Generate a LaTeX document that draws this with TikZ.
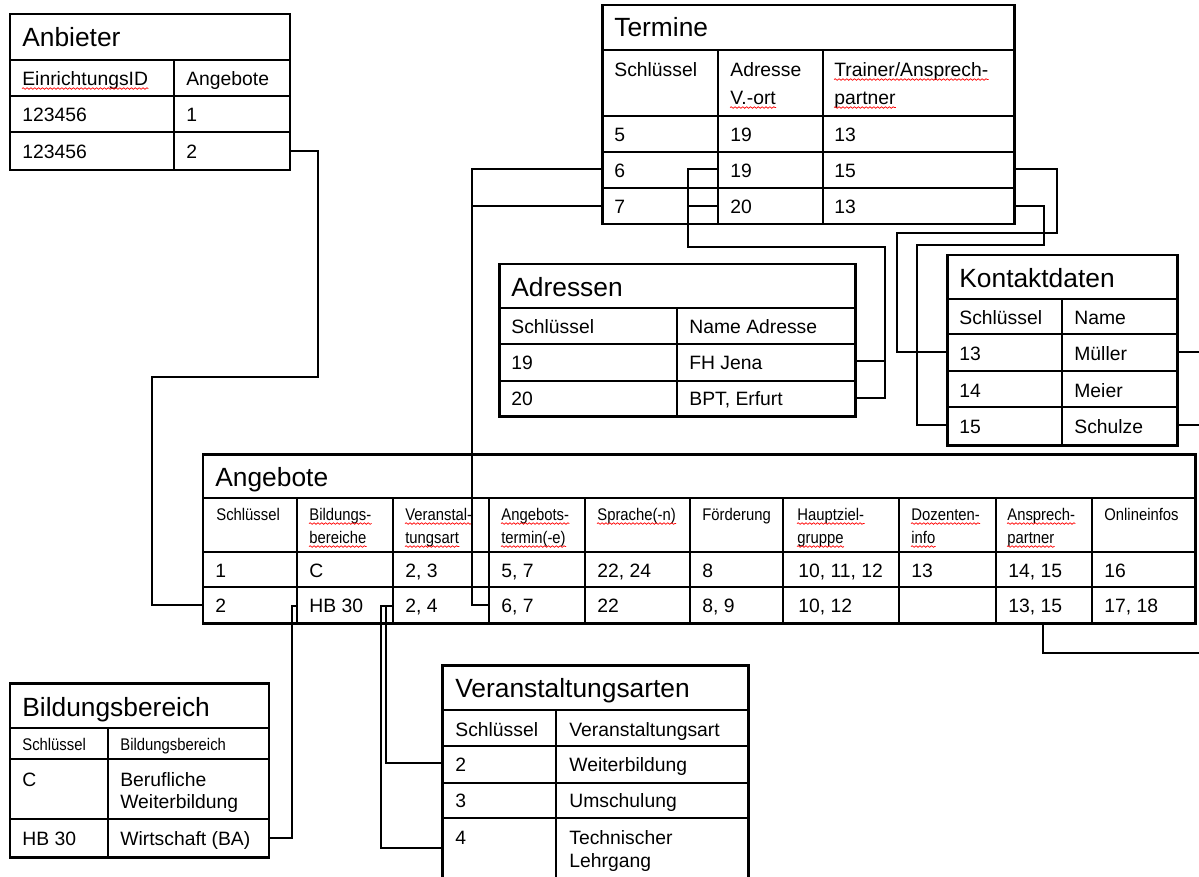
\documentclass[tikz,border=0pt]{standalone}
\usepackage{fontspec}
\setmainfont{Liberation Sans}
\newfontfamily\narrowfont[FakeStretch=0.88]{Liberation Sans}
\usetikzlibrary{decorations.pathmorphing}

\begin{document}
\begin{tikzpicture}[% styles used in image code
       x = 0.02cm, y = -0.02cm,
frame/.style = {draw, line width=1.7pt},
 rule/.style = {draw, line width=0.6pt},
 link/.style = {draw, line width=0.6pt},
title/.style = {anchor=base west, inner sep=0pt,
                font=\fontsize{15}{18}\selectfont},
  txt/.style = {anchor=base west, inner sep=0pt,
                font=\fontsize{11}{13}\selectfont},
small/.style = {anchor=base west, inner sep=0pt,
                font=\narrowfont\fontsize{9.6}{11}\selectfont},
spell/.style = {draw=red, line width=0.4pt, decorate,
                decoration={snake, amplitude=0.45pt, segment length=2.2pt}},
wavy/.style  = {append after command={([yshift=-2pt]\tikzlastnode.base west)
                edge[spell] ([yshift=-2pt]\tikzlastnode.base east)}}
                    ]
	\useasboundingbox (0,0) rectangle (1199,876);
	\clip (0,0) rectangle (1199,876);

	% Anbieter
	\draw[rule] (10,60) -- (290,60) (10,96) -- (290,96) (10,132) -- (290,132)
	            (174,60) -- (174,170);
	\draw[frame] (10,14) rectangle (290,170);
	\node[title] (anb-t) at (22,46) {Anbieter};
	\node[txt, wavy] (anb-h1) at (22,85) {EinrichtungsID};
	\node[txt] (anb-h2) at (186,85) {Angebote};
	\foreach \y/\a/\b in {121/123456/1, 158/123456/2}
	  {\node[txt] (anb-\b-1) at (22,\y) {\a};
	   \node[txt] (anb-\b-2) at (186,\y) {\b};}

	% Termine
	\draw[rule] (602,50) -- (1014,50) (602,116) -- (1014,116)
	            (602,152) -- (1014,152) (602,188) -- (1014,188)
	            (718,50) -- (718,224) (823,50) -- (823,224);
	\draw[frame] (602,5) rectangle (1014,224);
	\node[title] (ter-t) at (614,36) {Termine};
	\node[txt] (ter-h1) at (614,76) {Schlüssel};
	\node[txt] (ter-h2) at (730,76) {Adresse};
	\node[txt, wavy] (ter-h2b) at (730,104) {V.-ort};
	\node[txt, wavy] (ter-h3) at (834,76) {Trainer/Ansprech-};
	\node[txt, wavy] (ter-h3b) at (834,104) {partner};
	\foreach \y/\a/\b/\c in {141/5/19/13, 177/6/19/15, 213/7/20/13}
	  {\node[txt] (ter-\a-1) at (614,\y) {\a};
	   \node[txt] (ter-\a-2) at (730,\y) {\b};
	   \node[txt] (ter-\a-3) at (834,\y) {\c};}

	% Adressen
	\draw[rule] (499,308) -- (855,308) (499,344) -- (855,344) (499,381) -- (855,381)
	            (677,308) -- (677,416);
	\draw[frame] (499,264) rectangle (855,416);
	\node[title] (adr-t) at (511,296) {Adressen};
	\node[txt] (adr-h1) at (511,333) {Schlüssel};
	\node[txt] (adr-h2) at (689,333) {Name Adresse};
	\foreach \y/\a/\b in {369/19/FH Jena, 405/20/{BPT, Erfurt}}
	  {\node[txt] (adr-\a-1) at (511,\y) {\a};
	   \node[txt] (adr-\a-2) at (689,\y) {\b};}

	% Kontaktdaten
	\draw[rule] (947,299) -- (1177,299) (947,334) -- (1177,334)
	            (947,371) -- (1177,371) (947,407) -- (1177,407)
	            (1062,299) -- (1062,445);
	\draw[frame] (947,255) rectangle (1177,445);
	\node[title] (kon-t) at (959,287) {Kontaktdaten};
	\node[txt] (kon-h1) at (959,324) {Schlüssel};
	\node[txt] (kon-h2) at (1074,324) {Name};
	\foreach \y/\a/\b in {360/13/Müller, 397/14/Meier, 433/15/Schulze}
	  {\node[txt] (kon-\a-1) at (959,\y) {\a};
	   \node[txt] (kon-\a-2) at (1074,\y) {\b};}

	% Angebote
	\draw[rule] (203,498) -- (1195,498) (203,552) -- (1195,552) (203,587) -- (1195,587);
	\foreach \x in {297,393,489,585,690,783,899,996,1092}
	  \draw[rule] (\x,498) -- (\x,623);
	\draw[frame] (203,454) rectangle (1195,623);
	\node[title] (ang-t) at (215,486) {Angebote};
	\node[small] (ang-h1) at (216,520) {Schlüssel};
	\node[small] (ang-h6) at (702,520) {Förderung};
	\node[small] (ang-h10) at (1104,520) {Onlineinfos};
	\foreach \x/\n/\a/\b in {309/2/Bildungs-/bereiche, 405/3/Veranstal-/tungsart,
	                        501/4/Angebots-/termin(-e), 797/7/Hauptziel-/gruppe,
	                        911/8/Dozenten-/info, 1007/9/Ansprech-/partner}
	  {\node[small, wavy] (ang-h\n) at (\x,520) {\a};
	   \node[small, wavy] (ang-h\n b) at (\x,543) {\b};}
	\node[small, wavy] (ang-h5) at (597,520) {Sprache(-n)};
	\foreach \x/\n/\a/\b in {215/1/1/2, 309/2/C/HB 30, 405/3/{2, 3}/{2, 4},
	                        501/4/{5, 7}/{6, 7}, 597/5/{22, 24}/22, 702/6/8/{8, 9},
	                        798/7/{10, 11, 12}/{10, 12}, 911/8/13/,
	                        1008/9/{14, 15}/{13, 15}, 1104/10/16/{17, 18}}
	  {\node[txt] (ang-1-\n) at (\x,577) {\a};
	   \node[txt] (ang-2-\n) at (\x,612) {\b};}

	% Bildungsbereich
	\draw[rule] (10,728) -- (269,728) (10,759) -- (269,759) (10,819) -- (269,819)
	            (108,728) -- (108,857);
	\draw[frame] (10,683) rectangle (269,857);
	\node[title] (bil-t) at (22,716) {Bildungsbereich};
	\node[small] (bil-h1) at (22,750) {Schlüssel};
	\node[small] (bil-h2) at (120,750) {Bildungsbereich};
	\node[txt] (bil-c-1) at (22,786) {C};
	\node[txt] (bil-c-2) at (120,786) {Berufliche};
	\node[txt] (bil-c-2b) at (120,808) {Weiterbildung};
	\node[txt] (bil-hb-1) at (22,845) {HB 30};
	\node[txt] (bil-hb-2) at (120,845) {Wirtschaft (BA)};

	% Veranstaltungsarten
	\draw[rule] (442,710) -- (748,710) (442,746) -- (748,746)
	            (442,783) -- (748,783) (442,818) -- (748,818)
	            (556,710) -- (556,900);
	\draw[frame] (442,665) rectangle (748,900);
	\node[title] (ver-t) at (455,697) {Veranstaltungsarten};
	\node[txt] (ver-h1) at (455,736) {Schlüssel};
	\node[txt] (ver-h2) at (569,736) {Veranstaltungsart};
	\foreach \y/\a/\b in {771/2/Weiterbildung, 807/3/Umschulung, 844/4/Technischer}
	  {\node[txt] (ver-\a-1) at (455,\y) {\a};
	   \node[txt] (ver-\a-2) at (569,\y) {\b};}
	\node[txt] (ver-4-2b) at (569,867) {Lehrgang};

	% connectors
	\coordinate (anb2) at (290,151);
	\coordinate (ang2) at (203,605);
	\coordinate (ter6) at (602,169);
	\coordinate (ter7) at (602,206);
	\coordinate (ang67) at (489,605);
	\coordinate (adr6) at (718,169);
	\coordinate (adr7) at (718,206);
	\coordinate (adr19) at (855,361);
	\coordinate (adr20) at (855,398);
	\coordinate (tr6) at (1014,169);
	\coordinate (tr7) at (1014,206);
	\coordinate (kon13) at (947,352);
	\coordinate (kon15) at (947,425);
	\coordinate (kon13r) at (1177,352);
	\coordinate (kon15r) at (1177,425);
	\coordinate (ansp) at (1043,623);
	\coordinate (hb) at (297,606);
	\coordinate (bb-hb) at (269,838);
	\coordinate (va24) at (393,606);
	\coordinate (vart2) at (442,763);
	\coordinate (vart4) at (442,848);

	\draw[link] (anb2) -| (318,377) -| (152,605) -- (ang2);
	\draw[link] (ter6) -| (472,605) -- (ang67);
	\draw[link] (ter7) -- (472,206);
	\draw[link] (adr6) -| (688,247) -| (885,398) -- (adr20);
	\draw[link] (adr7) -- (688,206);
	\draw[link] (adr19) -- (885,361);
	\draw[link] (tr6) -| (1057,233) -| (897,352) -- (kon13);
	\draw[link] (tr7) -| (1044,245) -| (917,425) -- (kon15);
	\draw[link] (kon13r) -- (1199,352);
	\draw[link] (kon15r) -- (1199,425);
	\draw[link] (ansp) |- (1199,653);
	\draw[link] (hb) -- (292,606) |- (bb-hb);
	\draw[link] (va24) -- (386,606) |- (vart2);
	\draw[link] (va24) -- (381,606) |- (vart4);
\end{tikzpicture}
\end{document}
